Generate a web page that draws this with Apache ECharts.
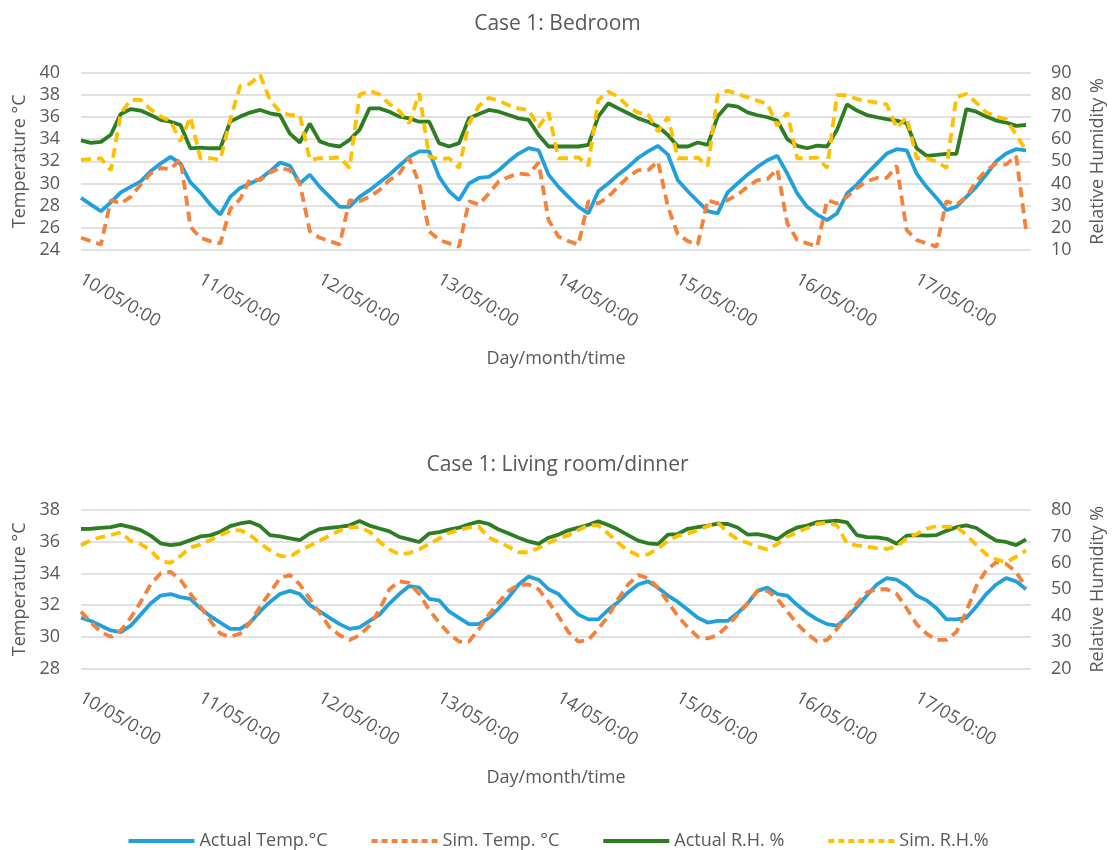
<!DOCTYPE html>
<html>
<head>
<meta charset="utf-8">
<script src="https://cdn.jsdelivr.net/npm/echarts@6/dist/echarts.min.js"></script>
<style>html,body{margin:0;padding:0;background:#fff}#c{width:1115px;height:850px}</style>
</head>
<body>
<div id="c"></div>
<script>
// ---- data (2-hour samples from 10/05 0:00) ----
const dayLabels = ['10/05/0:00','11/05/0:00','12/05/0:00','13/05/0:00','14/05/0:00','15/05/0:00','16/05/0:00','17/05/0:00'];
const seriesNames = ['Actual Temp.°C','Sim. Temp. °C','Actual R.H. %','Sim. R.H.%'];
const hours = [];
for (let h = 0; h <= 190; h += 2) hours.push(h);

// Bedroom
const bedTempAct = [28.7,28.1,27.5,28.3,29.2,29.7,30.2,31.1,31.8,32.4,31.8,30.1,
  29.2,28.1,27.2,28.8,29.6,30.0,30.4,31.1,31.9,31.6,30.0,30.8,
  29.7,28.8,27.9,27.9,28.8,29.4,30.1,30.8,31.6,32.4,32.9,32.9,
  30.6,29.3,28.5,30.0,30.5,30.6,31.2,32.0,32.7,33.2,33.0,30.8,
  29.7,28.8,27.9,27.3,29.3,30.0,30.8,31.5,32.3,32.9,33.4,32.6,
  30.3,29.3,28.4,27.5,27.3,29.2,30.0,30.8,31.5,32.1,32.5,30.9,
  29.1,27.9,27.2,26.7,27.3,29.1,29.9,30.9,31.8,32.7,33.1,33.0,
  30.9,29.7,28.7,27.6,27.9,28.8,29.7,30.8,32.0,32.7,33.1,33.0];
const bedTempSim = [25.1,24.8,24.5,28.5,28.2,28.8,29.9,30.9,31.4,31.3,32.2,26.1,
  25.1,24.8,24.6,27.7,28.6,30.4,30.3,31.0,31.4,31.2,30.0,25.7,
  25.1,24.8,24.5,28.5,28.4,28.8,29.4,30.3,30.9,32.3,30.0,25.7,
  24.9,24.6,24.3,28.4,28.1,29.1,30.2,30.6,30.9,30.8,31.9,26.7,
  25.2,24.8,24.5,28.4,28.2,28.8,29.7,30.6,31.2,31.2,32.0,27.9,
  25.4,24.8,24.5,28.5,28.2,28.5,29.0,29.7,30.3,30.4,31.3,26.4,
  24.9,24.6,24.3,28.5,28.2,28.8,29.6,30.2,30.5,30.5,31.6,25.8,
  24.9,24.6,24.3,28.4,28.1,28.8,30.2,31.2,31.8,31.7,32.5,25.8];
const bedRHAct = [59.5,58.3,58.8,62.0,71.4,73.6,72.9,70.9,68.7,67.9,66.4,55.9,
  56.2,55.9,55.9,67.9,70.2,72.0,73.2,71.7,70.9,62.5,58.5,67.0,
  59.0,57.4,56.7,59.7,64.2,73.9,73.9,72.4,70.2,69.4,67.9,67.9,
  58.2,56.7,58.2,69.4,71.4,73.2,72.4,70.9,69.4,68.7,61.9,56.7,
  56.7,56.7,56.7,57.4,70.2,76.2,73.9,71.7,69.4,67.9,65.7,61.9,
  56.7,56.7,58.5,57.4,70.2,75.4,74.7,72.1,70.8,69.9,68.4,60.0,
  57.0,55.9,57.1,56.7,64.2,75.7,72.9,70.9,69.9,69.1,68.4,67.2,
  55.9,52.5,52.9,53.4,53.4,73.6,72.4,70.2,68.4,67.5,66.0,66.4];
const bedRHSim = [50.7,51.0,51.4,46.0,71.7,77.7,77.7,73.5,70.2,68.2,59.0,70.0,
  51.4,51.4,50.7,68.7,84.0,85.0,89.0,77.7,72.4,70.9,70.9,50.7,
  51.4,51.4,51.8,47.0,80.0,81.9,80.2,75.9,72.7,67.2,80.7,52.2,
  51.0,51.4,47.0,67.2,75.0,78.7,77.4,75.3,73.9,73.2,65.5,72.0,
  51.4,51.4,51.9,48.0,77.7,81.4,79.2,74.7,72.0,71.2,63.4,70.0,
  51.4,51.4,51.7,48.0,79.9,81.9,80.4,78.9,77.4,75.9,66.0,72.0,
  51.4,51.4,51.7,47.0,79.9,79.9,78.1,77.2,76.5,75.7,65.0,70.0,
  51.4,51.4,50.0,47.0,79.0,80.4,76.5,72.0,70.2,69.0,62.0,55.0];

// Living room / dinner
const livTempAct = [31.2,31.0,30.7,30.4,30.3,30.7,31.4,32.1,32.6,32.7,32.5,32.4,
  31.8,31.3,30.9,30.5,30.5,30.9,31.6,32.2,32.7,32.9,32.7,32.0,
  31.6,31.2,30.8,30.5,30.6,31.0,31.4,32.1,32.7,33.2,33.1,32.4,
  32.3,31.6,31.2,30.8,30.8,31.2,31.8,32.5,33.3,33.8,33.6,33.0,
  32.7,32.0,31.4,31.1,31.1,31.7,32.2,32.8,33.3,33.5,33.1,32.6,
  32.2,31.7,31.2,30.9,31.0,31.0,31.5,32.1,32.9,33.1,32.7,32.6,
  32.0,31.5,31.1,30.8,30.7,31.2,31.9,32.6,33.3,33.7,33.6,33.2,
  32.6,32.3,31.8,31.1,31.1,31.2,31.9,32.7,33.3,33.7,33.5,33.0];
const livTempSim = [31.6,30.9,30.3,30.0,30.4,31.2,32.2,33.3,34.0,34.1,33.6,32.7,
  31.9,31.0,30.2,30.0,30.2,30.9,31.9,32.8,33.7,33.9,33.3,32.4,
  31.5,30.6,30.1,29.8,30.1,30.7,31.7,33.0,33.5,33.4,32.7,31.7,
  30.9,30.2,29.7,29.7,30.5,31.4,32.2,32.9,33.3,33.3,33.0,32.2,
  31.3,30.3,29.7,29.8,30.5,31.3,32.4,33.3,33.9,33.7,33.1,32.2,
  31.3,30.6,30.0,29.9,30.1,30.7,31.4,32.1,32.9,32.9,32.4,31.6,
  30.8,30.2,29.7,29.8,30.5,31.3,32.1,32.8,33.0,33.0,32.7,31.8,
  30.8,30.2,29.8,29.8,30.3,31.6,33.2,34.2,34.7,34.6,34.1,33.1];
const livRHAct = [72.8,72.9,73.2,73.5,74.4,73.5,72.4,70.3,67.4,66.7,67.2,68.6,
  70.0,70.4,71.8,73.9,74.9,75.5,73.9,70.5,70.0,69.3,68.6,71.1,
  72.8,73.2,73.6,74.2,75.8,74.1,73.0,71.9,69.8,68.9,67.9,71.1,
  71.6,72.6,73.3,74.6,75.6,74.7,72.6,71.1,69.5,68.1,67.2,69.5,
  70.7,72.3,73.3,74.4,75.7,74.3,72.6,70.5,68.4,67.4,67.1,70.7,
  70.9,72.9,73.5,74.1,74.8,74.7,73.4,70.7,70.9,70.1,68.9,71.6,
  73.4,74.1,75.4,75.7,76.0,75.3,70.5,69.7,69.6,69.1,67.2,70.3,
  70.5,70.3,70.5,72.1,73.5,74.2,73.2,70.7,68.4,67.9,66.7,68.9];
const livRHSim = [66.6,68.6,69.7,70.5,71.6,68.2,67.1,64.7,60.8,60.0,62.6,65.8,
  66.9,68.6,70.5,72.1,72.4,70.5,67.4,64.7,62.6,62.3,64.7,66.5,
  68.4,70.3,72.3,73.4,73.5,71.8,68.0,65.1,63.2,63.7,65.1,67.1,
  69.2,71.3,72.5,73.3,73.7,69.5,67.9,66.0,64.0,64.0,65.6,67.6,
  69.2,70.5,72.4,74.3,74.2,71.1,67.6,64.5,62.9,63.2,65.5,68.2,
  70.3,71.1,72.3,73.9,75.3,71.6,68.8,67.6,66.1,65.1,67.1,69.9,
  71.6,73.2,74.7,75.2,74.2,67.4,66.6,66.1,65.6,65.3,66.1,69.3,
  70.9,72.9,73.9,73.6,73.7,70.5,66.8,63.2,61.3,60.2,62.3,64.7];

// ---- styles ----
const FONT = 'Open Sans';
const TXT = '#595959';
const colors = ['#22A0DC', '#F5823A', '#2E7D23', '#FFC000'];
const pair = arr => hours.map((h, i) => [h, arr[i]]);

function xAxis(gridIndex) {
  return {
    type: 'value', gridIndex, min: 0, max: 191, interval: 24,
    axisLine: {show: false}, axisTick: {show: false}, splitLine: {show: false},
    axisLabel: {
      rotate: -30, margin: 28, color: TXT, fontSize: 18, fontFamily: FONT,
      showMaxLabel: false,
      formatter: v => (v % 24 === 0 && dayLabels[v / 24]) ? dayLabels[v / 24] : ''
    },
    name: 'Day/month/time', nameLocation: 'middle', nameGap: 100,
    nameTextStyle: {color: TXT, fontSize: 18, fontFamily: FONT}
  };
}
function yAxis(gridIndex, min, max, interval, name, right) {
  return {
    type: 'value', gridIndex, min, max, interval,
    position: right ? 'right' : 'left',
    axisLine: {show: false}, axisTick: {show: false},
    splitLine: {show: !right, lineStyle: {color: '#D9D9D9', width: 1.6}},
    axisLabel: {margin: right ? 20 : 21, color: TXT, fontSize: 18, fontFamily: FONT},
    name, nameLocation: 'middle', nameRotate: 90, nameGap: right ? 58 : 50,
    nameTextStyle: {color: TXT, fontSize: 18, fontFamily: FONT}
  };
}
function line(nameIdx, data, xIdx, yIdx) {
  const dashed = nameIdx === 1 || nameIdx === 3;
  return {
    type: 'line', name: seriesNames[nameIdx], xAxisIndex: xIdx, yAxisIndex: yIdx,
    data: pair(data), symbol: 'none', color: colors[nameIdx],
    lineStyle: {color: colors[nameIdx], width: 3.8, type: dashed ? [10, 6] : 'solid'},
    z: 2 + nameIdx
  };
}

const chart = echarts.init(document.getElementById('c'), null, {renderer: 'canvas'});
chart.setOption({
  animation: false,
  backgroundColor: '#fff',
  title: [
    {text: 'Case 1: Bedroom', left: 'center', top: 9, textStyle: {color: TXT, fontSize: 21, fontWeight: 'normal', fontFamily: FONT}},
    {text: 'Case 1: Living room/dinner', left: 'center', top: 450, textStyle: {color: TXT, fontSize: 21, fontWeight: 'normal', fontFamily: FONT}}
  ],
  legend: {
    data: seriesNames.map((n, i) => (i === 1 || i === 3)
      ? {name: n, lineStyle: {type: [6, 4]}}
      : {name: n}),
    top: 827, left: 'center', itemWidth: 66, itemHeight: 14, itemGap: 42,
    itemStyle: {opacity: 0, color: 'rgba(0,0,0,0)', borderWidth: 0},
    lineStyle: {width: 4},
    textStyle: {color: TXT, fontSize: 18, fontFamily: FONT}
  },
  grid: [
    {left: 81, width: 959, top: 72.7, height: 177.3},
    {left: 81, width: 959, top: 510, height: 158.5}
  ],
  xAxis: [xAxis(0), xAxis(1)],
  yAxis: [
    yAxis(0, 24, 40, 2, 'Temperature °C', false),
    yAxis(0, 10, 90, 10, 'Relative Humidity %', true),
    yAxis(1, 28, 38, 2, 'Temperature °C', false),
    yAxis(1, 20, 80, 10, 'Relative Humidity %', true)
  ],
  series: [
    line(0, bedTempAct, 0, 0),
    line(1, bedTempSim, 0, 0),
    line(2, bedRHAct, 0, 1),
    line(3, bedRHSim, 0, 1),
    line(0, livTempAct, 1, 2),
    line(1, livTempSim, 1, 2),
    line(2, livRHAct, 1, 3),
    line(3, livRHSim, 1, 3)
  ]
});
</script>
</body>
</html>
